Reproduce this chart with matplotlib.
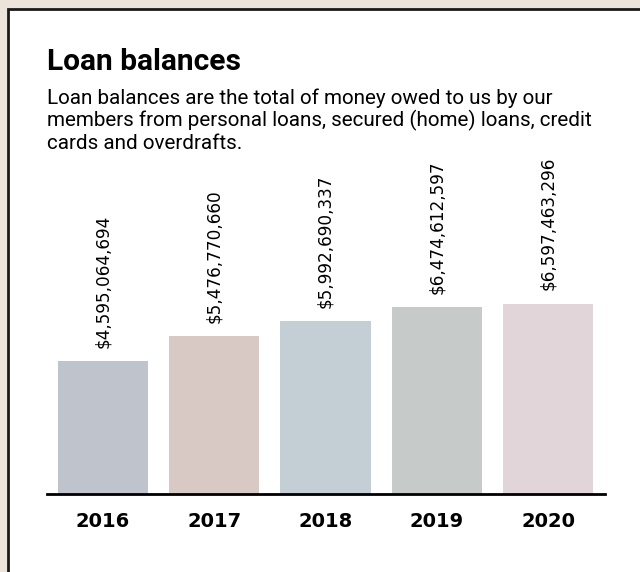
import matplotlib.pyplot as plt
from matplotlib.patches import Rectangle

# loan balances per year
years = ['2016', '2017', '2018', '2019', '2020']
balances = [4595064694, 5476770660, 5992690337, 6474612597, 6597463296]
colores = ['#bfc3cb', '#d8c9c5', '#c4cfd5', '#c6cbca', '#e1d5da']

W, H = 640, 572
fig = plt.figure(figsize=(W / 100, H / 100), dpi=100)
fig.patch.set_facecolor('#ece4da')

# white card with dark border, open to the right and bottom
card = Rectangle((8 / W, -0.1), 1.2, (H - 9) / H + 0.1, transform=fig.transFigure,
                 facecolor='white', edgecolor='#1a1a1a', linewidth=2, zorder=-5)
fig.patches.append(card)

fig.text(47 / W, 1 - 70 / H, 'Loan balances', fontsize=21.5, fontweight='bold',
         family='Roboto', va='baseline', ha='left')
sub = ['Loan balances are the total of money owed to us by our',
       'members from personal loans, secured (home) loans, credit',
       'cards and overdrafts.']
for i, linea in enumerate(sub):
    fig.text(47 / W, 1 - (104 + 22.5 * i) / H, linea, fontsize=14.9,
             family='Roboto', va='baseline', ha='left')

# axes in pixel terms: baseline at y=494, ~28.85 px per billion
base = 494
top = 180
px_per = 28.85 / 1e9
ax = fig.add_axes([47 / W, (H - base) / H, (605 - 47) / W, (base - top) / H])
ax.set_facecolor('none')
ax.set_xlim(-0.503, 4.512)
ax.set_ylim(0, (base - top) / px_per)

x = range(len(years))
ax.bar(x, balances, width=0.81, color=colores, zorder=2)
for xi, v in zip(x, balances):
    ax.annotate(f'${v:,}', (xi, v), xytext=(0, 9.5), textcoords='offset points',
                rotation=90, ha='center', va='bottom', fontsize=12.2,
                family='DejaVu Sans', annotation_clip=False)

for s in ['top', 'right', 'left']:
    ax.spines[s].set_visible(False)
ax.spines['bottom'].set_linewidth(2)
ax.spines['bottom'].set_color('black')
ax.set_yticks([])
ax.set_xticks(list(x))
ax.set_xticklabels(years, fontsize=14, fontweight='bold', family='DejaVu Sans')
ax.tick_params(axis='x', length=0, pad=13)

fig.savefig('out.png', dpi=100, facecolor=fig.get_facecolor())
